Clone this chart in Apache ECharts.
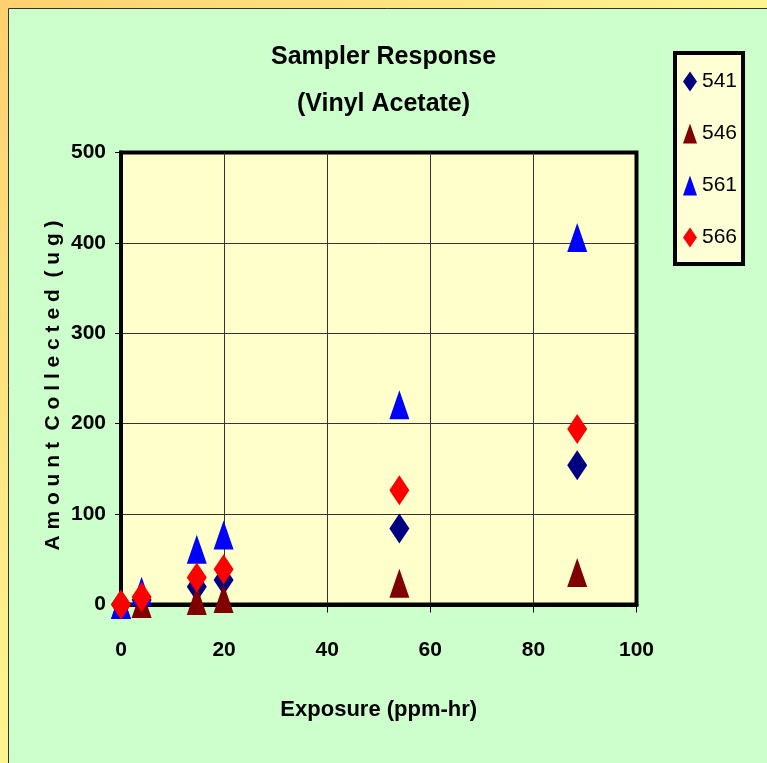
<!DOCTYPE html>
<html>
<head>
<meta charset="utf-8">
<script src="https://cdn.jsdelivr.net/npm/echarts@6/dist/echarts.min.js"></script>
<style>
html,body{margin:0;padding:0;}
#chart{width:767px;height:763px;}
</style>
</head>
<body>
<div id="chart"></div>
<script>
// Data
const exposure = [0, 4, 14.7, 19.9, 54, 88.5];
const s541 = [0, 5, 19.7, 27, 84, 154];
const s546 = [0, 1, 4.4, 6.6, 23.5, 35.4];
const s561 = [0, 14.7, 61, 77, 221, 406];
const s566 = [0, 8.3, 30, 39, 126.5, 194];
const seriesNames = ['541', '546', '561', '566'];
const xTicks = [0, 20, 40, 60, 80, 100];
const yTicks = [0, 100, 200, 300, 400, 500];

const FONT = '"Liberation Sans", Arial, sans-serif';

function pairs(ys) { return exposure.map((x, i) => [x, ys[i]]); }

const chart = echarts.init(document.getElementById('chart'));
const option = {
  backgroundColor: '#CCFFCC',
  graphic: [
    {type: 'rect', shape: {x: 0, y: 0, width: 767, height: 8},
      style: {fill: new echarts.graphic.LinearGradient(0, 0, 1, 0, [{offset: 0, color: '#FFD070'}, {offset: 1, color: '#FFF590'}])}},
    {type: 'rect', shape: {x: 0, y: 0, width: 8, height: 763},
      style: {fill: new echarts.graphic.LinearGradient(0, 0, 0, 1, [{offset: 0, color: '#FFD070'}, {offset: 1, color: '#FFF590'}])}},
    {type: 'polyline', shape: {points: [[8.5, 763], [8.5, 8.5], [767, 8.5]]},
      style: {stroke: '#333333', lineWidth: 1, fill: null}}
  ],
  title: {
    text: 'Sampler Response\n(Vinyl Acetate)',
    left: 'center', top: 29,
    textStyle: {fontFamily: FONT, fontWeight: 'bold', fontSize: 25, lineHeight: 47, color: '#000'}
  },
  legend: {
    orient: 'vertical', left: 675, top: 53,
    padding: [18, 6, 16, 8],
    itemWidth: 14, itemHeight: 20, itemGap: 31,
    backgroundColor: '#FFFFD5', borderColor: '#000', borderWidth: 4,
    textStyle: {fontFamily: FONT, fontSize: 21, color: '#000'},
    data: seriesNames
  },
  grid: {
    left: 121, right: 130.5, top: 152.5, bottom: 158.5,
    show: true, backgroundColor: '#FFFFCC', borderColor: '#000', borderWidth: 4
  },
  xAxis: {
    type: 'value', min: 0, max: 100, interval: 20,
    name: 'Exposure (ppm-hr)', nameLocation: 'middle', nameGap: 94,
    nameTextStyle: {fontFamily: FONT, fontWeight: 'bold', fontSize: 22, color: '#000'},
    axisLine: {show: true, lineStyle: {color: '#000', width: 4}},
    axisTick: {show: true, length: 8, lineStyle: {color: '#000', width: 1}},
    axisLabel: {margin: 35, fontFamily: FONT, fontWeight: 'bold', fontSize: 21, color: '#000',
      formatter: v => xTicks.includes(v) ? String(v) : ''},
    splitLine: {show: true, showMinLine: false, showMaxLine: false, lineStyle: {color: '#333', width: 1}}
  },
  yAxis: {
    type: 'value', min: 0, max: 500, interval: 100,
    name: 'A m o u n t  C o l l e c t e d  ( u g )', nameLocation: 'middle', nameGap: 57, nameRotate: 90,
    nameMoveOverlap: false,
    nameTextStyle: {fontFamily: FONT, fontWeight: 'bold', fontSize: 21, color: '#000', padding: [0, 14, 0, 0]},
    axisLine: {show: true, lineStyle: {color: '#000', width: 4}},
    axisTick: {show: true, length: 6, lineStyle: {color: '#000', width: 1}},
    axisLabel: {margin: 15, fontFamily: FONT, fontWeight: 'bold', fontSize: 21, color: '#000',
      formatter: v => yTicks.includes(v) ? String(v) : ''},
    splitLine: {show: true, showMinLine: false, showMaxLine: false, lineStyle: {color: '#333', width: 1}}
  },
  series: [
    {name: '541', type: 'scatter', symbol: 'diamond', symbolSize: [20, 30], clip: false, z: 3,
      itemStyle: {color: '#000080', opacity: 1}, data: pairs(s541)},
    {name: '546', type: 'scatter', symbol: 'triangle', symbolSize: [20, 29], clip: false, z: 4,
      itemStyle: {color: '#800000', opacity: 1}, data: pairs(s546)},
    {name: '561', type: 'scatter', symbol: 'triangle', symbolSize: [20, 29], clip: false, z: 5,
      itemStyle: {color: '#0000FF', opacity: 1}, data: pairs(s561)},
    {name: '566', type: 'scatter', symbol: 'diamond', symbolSize: [20, 30], clip: false, z: 6,
      itemStyle: {color: '#FF0000', opacity: 1}, data: pairs(s566)}
  ],
  animation: false
};
chart.setOption(option);
</script>
</body>
</html>
